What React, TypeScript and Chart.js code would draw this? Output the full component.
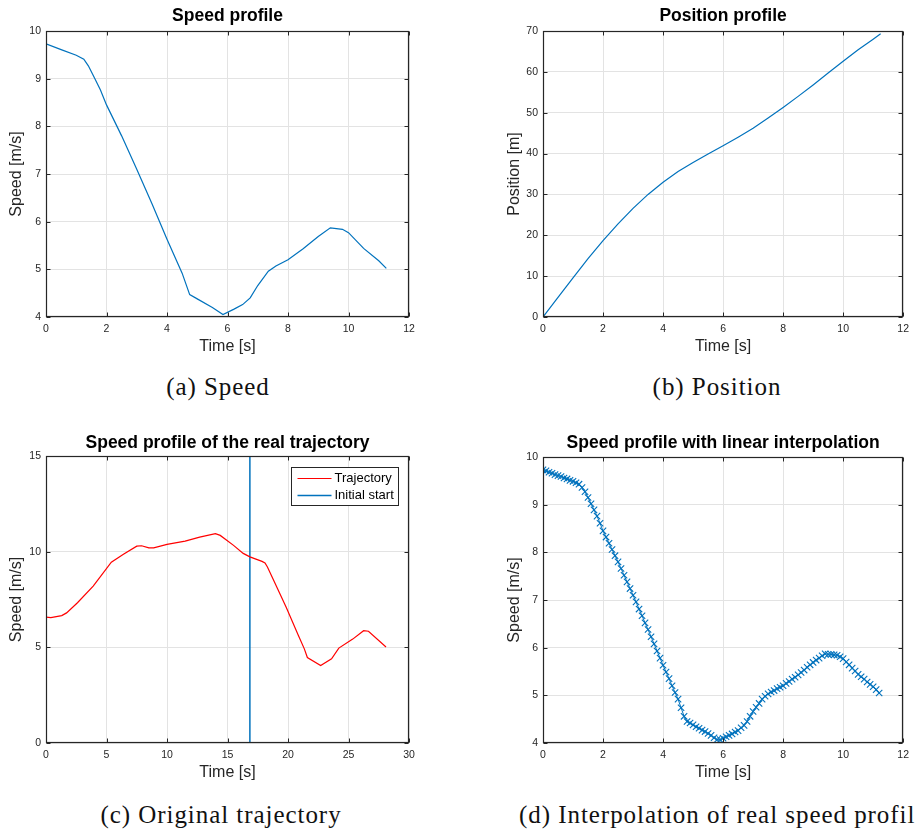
import React, { useEffect, useRef } from 'react';
import { Chart, registerables } from 'chart.js';

Chart.register(...registerables);

// ---------- Data ----------
// (a) Speed profile
const speedTime = [0, 0.5, 1.0, 1.25, 1.4, 1.6, 1.8, 2.0, 2.5, 3.0, 3.5, 4.0, 4.5, 4.75, 5.0, 5.5, 5.85, 6.2, 6.5, 6.75, 7.0, 7.35, 7.6, 8.0, 8.5, 9.0, 9.4, 9.8, 10.0, 10.5, 11.0, 11.25];
const speedValues = [9.73, 9.61, 9.49, 9.41, 9.27, 9.02, 8.76, 8.45, 7.80, 7.10, 6.38, 5.63, 4.92, 4.47, 4.38, 4.20, 4.05, 4.16, 4.26, 4.40, 4.66, 4.96, 5.07, 5.20, 5.43, 5.69, 5.87, 5.84, 5.77, 5.44, 5.18, 5.02];

// (b) Position profile
const positionTime = [0, 0.5, 1, 1.5, 2, 2.5, 3, 3.5, 4, 4.5, 5, 5.5, 6, 6.5, 7, 7.5, 8, 8.5, 9, 9.5, 10, 10.5, 11, 11.25];
const positionValues = [0, 4.8, 9.6, 14.3, 18.7, 22.8, 26.6, 30.0, 33.0, 35.6, 37.8, 39.9, 41.9, 44.0, 46.2, 48.7, 51.3, 54.0, 56.8, 59.7, 62.6, 65.4, 68.0, 69.3];

// (c) Speed profile of the real trajectory
const trajTime = [0, 0.4, 1.3, 1.7, 2.6, 3.9, 5.4, 6.4, 7.5, 7.9, 8.5, 8.9, 10.0, 11.5, 12.7, 14.0, 14.4, 15.5, 16.3, 16.85, 17.35, 17.85, 18.1, 18.3, 18.85, 19.85, 20.85, 21.35, 21.6, 22.7, 23.6, 24.2, 25.35, 26.25, 26.65, 28.1];
const trajValues = [6.58, 6.55, 6.66, 6.80, 7.33, 8.20, 9.45, 9.86, 10.29, 10.31, 10.20, 10.20, 10.38, 10.55, 10.76, 10.94, 10.85, 10.33, 9.91, 9.73, 9.61, 9.49, 9.41, 9.20, 8.45, 7.10, 5.63, 4.92, 4.47, 4.05, 4.40, 4.96, 5.43, 5.87, 5.84, 5.02];
const initialStartTime = [16.85, 16.85];
const initialStartValues = [0, 15];

// (d) Speed profile with linear interpolation
const interpTime = [
  0, 0.1, 0.2, 0.3, 0.4, 0.5, 0.6, 0.7, 0.8, 0.9,
  1.0, 1.1, 1.2, 1.3, 1.4, 1.5, 1.6, 1.7, 1.8, 1.9,
  2.0, 2.1, 2.2, 2.3, 2.4, 2.5, 2.6, 2.7, 2.8, 2.9,
  3.0, 3.1, 3.2, 3.3, 3.4, 3.5, 3.6, 3.7, 3.8, 3.9,
  4.0, 4.1, 4.2, 4.3, 4.4, 4.5, 4.6, 4.7, 4.8, 4.9,
  5.0, 5.1, 5.2, 5.3, 5.4, 5.5, 5.6, 5.7, 5.8, 5.9,
  6.0, 6.1, 6.2, 6.3, 6.4, 6.5, 6.6, 6.7, 6.8, 6.9,
  7.0, 7.1, 7.2, 7.3, 7.4, 7.5, 7.6, 7.7, 7.8, 7.9,
  8.0, 8.1, 8.2, 8.3, 8.4, 8.5, 8.6, 8.7, 8.8, 8.9,
  9.0, 9.1, 9.2, 9.3, 9.4, 9.5, 9.6, 9.7, 9.8, 9.9,
  10.0, 10.1, 10.2, 10.3, 10.4, 10.5, 10.6, 10.7, 10.8, 10.9,
  11.0, 11.1, 11.2,
];
const interpValues = [
  9.73, 9.71, 9.68, 9.66, 9.63, 9.61, 9.59, 9.56, 9.54, 9.51,
  9.49, 9.46, 9.43, 9.36, 9.27, 9.15, 9.02, 8.89, 8.76, 8.61,
  8.45, 8.32, 8.19, 8.06, 7.93, 7.80, 7.66, 7.52, 7.38, 7.24,
  7.10, 6.96, 6.81, 6.67, 6.52, 6.38, 6.23, 6.08, 5.93, 5.78,
  5.63, 5.49, 5.35, 5.20, 5.06, 4.92, 4.74, 4.56, 4.45, 4.42,
  4.38, 4.34, 4.31, 4.27, 4.24, 4.20, 4.16, 4.11, 4.07, 4.07,
  4.10, 4.13, 4.16, 4.19, 4.23, 4.26, 4.32, 4.37, 4.45, 4.56,
  4.66, 4.75, 4.83, 4.92, 4.98, 5.03, 5.07, 5.10, 5.14, 5.17,
  5.20, 5.25, 5.29, 5.34, 5.38, 5.43, 5.48, 5.53, 5.59, 5.64,
  5.69, 5.74, 5.78, 5.83, 5.87, 5.86, 5.86, 5.85, 5.84, 5.81,
  5.77, 5.70, 5.64, 5.57, 5.51, 5.44, 5.39, 5.34, 5.28, 5.23,
  5.18, 5.12, 5.05,
];

const BLUE = '#0072BD';
const RED = '#FF0000';
const AXIS = '#262626';
const GRID = '#e3e3e3';
const SANS = '"Liberation Sans", Arial, Helvetica, sans-serif';

const toXY = (xs: number[], ys: number[]) => xs.map((x, i) => ({ x, y: ys[i] }));

// ---------- MATLAB-like axes plugin ----------
const matlabAxes = {
  id: 'matlabAxes',
  afterDatasetsDraw(chart: any, _args: any, o: any) {
    const { ctx, chartArea: a } = chart;
    const xs = chart.scales.x;
    const ys = chart.scales.y;
    const L = Math.round(a.left) + 0.5;
    const R = Math.round(a.right) - 0.5;
    const T = Math.round(a.top) + 0.5;
    const B = Math.round(a.bottom) - 0.5;
    ctx.save();
    ctx.strokeStyle = AXIS;
    ctx.lineWidth = 1;
    ctx.beginPath();
    xs.ticks.forEach((t: any) => {
      const px = Math.round(xs.getPixelForValue(t.value)) + 0.5;
      ctx.moveTo(px, B);
      ctx.lineTo(px, B - 4);
      ctx.moveTo(px, T);
      ctx.lineTo(px, T + 4);
    });
    ys.ticks.forEach((t: any) => {
      const py = Math.round(ys.getPixelForValue(t.value)) + 0.5;
      ctx.moveTo(L, py);
      ctx.lineTo(L + 4, py);
      ctx.moveTo(R, py);
      ctx.lineTo(R - 4, py);
    });
    ctx.stroke();
    ctx.lineWidth = 1.2;
    ctx.strokeRect(L, T, R - L, B - T);

    if (o.legend) {
      const bx = Math.round(a.right) - 11 - 107 + 0.5;
      const by = Math.round(a.top) + 11 + 0.5;
      const bw = 107;
      const bh = 38;
      ctx.fillStyle = '#ffffff';
      ctx.fillRect(bx, by, bw, bh);
      ctx.strokeStyle = AXIS;
      ctx.lineWidth = 1;
      ctx.strokeRect(bx, by, bw, bh);
      ctx.font = `13px ${SANS}`;
      ctx.textBaseline = 'middle';
      ctx.textAlign = 'left';
      chart.data.datasets.forEach((ds: any, i: number) => {
        const cy = by + 11 + i * 17;
        ctx.strokeStyle = ds.borderColor;
        ctx.lineWidth = ds.borderWidth;
        ctx.beginPath();
        ctx.moveTo(bx + 6, cy);
        ctx.lineTo(bx + 40, cy);
        ctx.stroke();
        ctx.fillStyle = '#000';
        ctx.fillText(ds.label, bx + 43, cy);
      });
    }
    ctx.restore();
  },
  afterDraw(chart: any, _args: any, o: any) {
    const { ctx, chartArea: a } = chart;
    const cx = (a.left + a.right) / 2;
    const cy = (a.top + a.bottom) / 2;
    ctx.save();
    ctx.textAlign = 'center';
    ctx.textBaseline = 'middle';
    ctx.fillStyle = '#000';
    ctx.font = `bold 17.5px ${SANS}`;
    ctx.fillText(o.title, cx, a.top - o.titleGap);
    ctx.fillStyle = AXIS;
    ctx.font = `16px ${SANS}`;
    ctx.fillText(o.xLabel, cx, a.bottom + 30);
    ctx.translate(a.left - o.yGap, cy);
    ctx.rotate(-Math.PI / 2);
    ctx.fillText(o.yLabel, 0, 0);
    ctx.restore();
  },
};

type PlotSpec = {
  width: number;
  height: number;
  area: { l: number; t: number; r: number; b: number };
  datasets: any[];
  xMin: number; xMax: number; xStep: number;
  yMin: number; yMax: number; yStep: number;
  title: string; xLabel: string; yLabel: string;
  titleGap: number; yGap: number;
  legend?: boolean;
};

function buildConfig(s: PlotSpec): any {
  const tickFont = { family: SANS, size: 10.5 };
  return {
    type: 'line',
    data: { datasets: s.datasets },
    plugins: [matlabAxes],
    options: {
      responsive: false,
      animation: false,
      devicePixelRatio: 1,
      layout: { padding: { left: 0, top: s.area.t, right: s.width - s.area.r, bottom: 0 } },
      plugins: {
        legend: { display: false },
        tooltip: { enabled: false },
        title: { display: false },
        matlabAxes: {
          title: s.title, xLabel: s.xLabel, yLabel: s.yLabel,
          titleGap: s.titleGap, yGap: s.yGap, legend: !!s.legend,
        },
      },
      scales: {
        x: {
          type: 'linear',
          min: s.xMin, max: s.xMax,
          afterFit: (sc: any) => { sc.height = s.height - s.area.b; },
          ticks: { stepSize: s.xStep, color: AXIS, font: tickFont, padding: 6, maxRotation: 0 },
          grid: { color: GRID, drawTicks: false, lineWidth: 1 },
          border: { display: false },
        },
        y: {
          type: 'linear',
          min: s.yMin, max: s.yMax,
          afterFit: (sc: any) => { sc.width = s.area.l; },
          ticks: { stepSize: s.yStep, color: AXIS, font: tickFont, padding: 5 },
          grid: { color: GRID, drawTicks: false, lineWidth: 1 },
          border: { display: false },
        },
      },
    },
  };
}

function Plot({ left, top, spec }: { left: number; top: number; spec: PlotSpec }) {
  const ref = useRef<HTMLCanvasElement>(null);
  useEffect(() => {
    const chart = new Chart(ref.current as HTMLCanvasElement, buildConfig(spec));
    return () => chart.destroy();
  }, []);
  return (
    <div style={{ position: 'absolute', left, top, width: spec.width, height: spec.height }}>
      <canvas ref={ref} width={spec.width} height={spec.height} style={{ width: spec.width, height: spec.height, display: 'block' }} />
    </div>
  );
}

const lineDs = (label: string, xs: number[], ys: number[], color: string, width = 1.2, extra: any = {}) => ({
  label,
  data: toXY(xs, ys),
  borderColor: color,
  backgroundColor: color,
  borderWidth: width,
  pointRadius: 0,
  tension: 0,
  fill: false,
  ...extra,
});

const specA: PlotSpec = {
  width: 457, height: 360,
  area: { l: 46, t: 31, r: 409, b: 317 },
  datasets: [lineDs('Speed', speedTime, speedValues, BLUE)],
  xMin: 0, xMax: 12, xStep: 2, yMin: 4, yMax: 10, yStep: 1,
  title: 'Speed profile', xLabel: 'Time [s]', yLabel: 'Speed [m/s]',
  titleGap: 15, yGap: 29,
};

const specB: PlotSpec = {
  width: 458, height: 360,
  area: { l: 86, t: 31, r: 450, b: 317 },
  datasets: [lineDs('Position', positionTime, positionValues, BLUE)],
  xMin: 0, xMax: 12, xStep: 2, yMin: 0, yMax: 70, yStep: 10,
  title: 'Position profile', xLabel: 'Time [s]', yLabel: 'Position [m]',
  titleGap: 15, yGap: 28,
};

const specC: PlotSpec = {
  width: 457, height: 370,
  area: { l: 46, t: 36, r: 409, b: 323 },
  datasets: [
    lineDs('Trajectory', trajTime, trajValues, RED, 1.2),
    lineDs('Initial start', initialStartTime, initialStartValues, BLUE, 1.5),
  ],
  xMin: 0, xMax: 30, xStep: 5, yMin: 0, yMax: 15, yStep: 5,
  title: 'Speed profile of the real trajectory', xLabel: 'Time [s]', yLabel: 'Speed [m/s]',
  titleGap: 13, yGap: 29, legend: true,
};

const specD: PlotSpec = {
  width: 458, height: 370,
  area: { l: 86, t: 37, r: 450, b: 323 },
  datasets: [
    lineDs('Interpolated speed', interpTime, interpValues, BLUE, 1, {
      pointRadius: 4.5,
      pointStyle: 'crossRot',
      pointBorderWidth: 1.1,
      pointBorderColor: BLUE,
    }),
  ],
  xMin: 0, xMax: 12, xStep: 2, yMin: 4, yMax: 10, yStep: 1,
  title: 'Speed profile with linear interpolation', xLabel: 'Time [s]', yLabel: 'Speed [m/s]',
  titleGap: 14, yGap: 28,
};

const captionStyle: React.CSSProperties = {
  position: 'absolute',
  fontFamily: '"Liberation Serif", "Times New Roman", serif',
  fontSize: 25,
  letterSpacing: '0.95px',
  color: '#111',
  whiteSpace: 'nowrap',
  lineHeight: '28px',
};

export default function App() {
  return (
    <div style={{ position: 'absolute', left: 0, top: 0, width: 915, height: 833, overflow: 'hidden', background: '#fff' }}>
      <Plot left={0} top={0} spec={specA} />
      <Plot left={457} top={0} spec={specB} />
      <Plot left={0} top={420} spec={specC} />
      <Plot left={457} top={420} spec={specD} />
      <div style={{ ...captionStyle, left: 118, width: 200, top: 373, textAlign: 'center' }}>(a) Speed</div>
      <div style={{ ...captionStyle, left: 617, width: 200, top: 373, textAlign: 'center' }}>(b) Position</div>
      <div style={{ ...captionStyle, left: 71, width: 300, top: 801, textAlign: 'center' }}>(c) Original trajectory</div>
      <div style={{ ...captionStyle, left: 519, top: 801 }}>(d) Interpolation of real speed profile</div>
    </div>
  );
}
